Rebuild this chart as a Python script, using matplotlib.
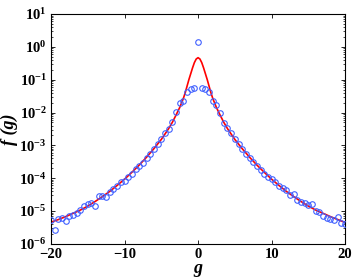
import numpy as np
import matplotlib
matplotlib.use('Agg')
import matplotlib.pyplot as plt
from matplotlib.ticker import LogLocator, NullFormatter

plt.rcParams['font.family'] = 'Liberation Serif'
plt.rcParams['font.weight'] = 'bold'
plt.rcParams['mathtext.fontset'] = 'custom'
plt.rcParams['mathtext.rm'] = 'Liberation Serif:bold'
plt.rcParams['mathtext.it'] = 'Liberation Serif:italic:bold'
plt.rcParams['mathtext.bf'] = 'Liberation Serif:bold'

# measured distribution (log10 of f), g = -20 ... 20 in steps of 0.5
g_data = [-20.0, -19.5, -19.0, -18.5, -18.0, -17.5, -17.0, -16.5, -16.0, -15.5,
          -15.0, -14.5, -14.0, -13.5, -13.0, -12.5, -12.0, -11.5, -11.0, -10.5,
          -10.0, -9.5, -9.0, -8.5, -8.0, -7.5, -7.0, -6.5, -6.0, -5.5,
          -5.0, -4.5, -4.0, -3.5, -3.0, -2.5, -2.0, -1.5, -1.0, -0.5,
          0.0, 0.5, 1.0, 1.5, 2.0, 2.5, 3.0, 3.5, 4.0, 4.5,
          5.0, 5.5, 6.0, 6.5, 7.0, 7.5, 8.0, 8.5, 9.0, 9.5,
          10.0, 10.5, 11.0, 11.5, 12.0, 12.5, 13.0, 13.5, 14.0, 14.5,
          15.0, 15.5, 16.0, 16.5, 17.0, 17.5, 18.0, 18.5, 19.0, 19.5, 20.0]
logf_data = [-5.27, -5.58, -5.24, -5.22, -5.30, -5.14, -5.12, -5.05, -4.97, -4.84,
             -4.80, -4.75, -4.85, -4.54, -4.54, -4.57, -4.43, -4.33, -4.24, -4.11,
             -4.08, -3.96, -3.86, -3.71, -3.63, -3.53, -3.37, -3.27, -3.10, -2.95,
             -2.80, -2.63, -2.49, -2.30, -1.99, -1.72, -1.65, -1.37, -1.28, -1.25,
             0.16, -1.25, -1.29, -1.38, -1.66, -1.76, -2.01, -2.31, -2.48, -2.63,
             -2.80, -2.95, -3.10, -3.25, -3.38, -3.52, -3.64, -3.74, -3.86, -3.96,
             -4.02, -4.11, -4.24, -4.29, -4.35, -4.52, -4.49, -4.65, -4.72, -4.75,
             -4.82, -4.80, -5.00, -5.03, -5.15, -5.20, -5.24, -5.27, -5.19, -5.37, -5.39]

# fitted curve (log10 of f)
g_fit = [-20, -19, -18, -17, -16, -15, -14, -13, -12, -11, -10, -9, -8, -7, -6, -5, -4,
         -3.5, -3, -2.5, -2, -1.75, -1.5, -1.25, -1, -0.75, -0.5, -0.25, 0,
         0.25, 0.5, 0.75, 1, 1.25, 1.5, 1.75, 2, 2.5, 3, 3.5,
         4, 5, 6, 7, 8, 9, 10, 11, 12, 13, 14, 15, 16, 17, 18, 19, 20]
logf_fit = [-5.34, -5.26, -5.17, -5.07, -4.97, -4.85, -4.71, -4.56, -4.40, -4.22, -4.03,
            -3.82, -3.60, -3.36, -3.10, -2.82, -2.49,
            -2.30, -2.08, -1.85, -1.57, -1.40, -1.20, -1.00, -0.82, -0.64, -0.48, -0.37, -0.33,
            -0.37, -0.48, -0.64, -0.82, -1.00, -1.20, -1.40, -1.57, -1.85, -2.08, -2.30,
            -2.49, -2.82, -3.10, -3.36, -3.60, -3.82, -4.03, -4.22, -4.40, -4.56, -4.71,
            -4.85, -4.97, -5.07, -5.17, -5.26, -5.35]

fig = plt.figure(figsize=(3.54, 2.8), dpi=100)
ax = fig.add_axes([0.144, 0.129, 0.831, 0.821])

ax.semilogy(g_data, 10 ** np.array(logf_data), 'o', mfc='none', mec='#4060ff',
            ms=4, mew=0.8, zorder=3)
ax.semilogy(g_fit, 10 ** np.array(logf_fit), color='red', lw=1.2, zorder=2)

ax.set_xlim(-20, 20)
ax.set_ylim(1e-6, 1e1)
ax.set_xticks([-20, -10, 0, 10, 20])
ax.set_xticklabels(['\u221220', '\u221210', '0', '10', '20'])
ax.yaxis.set_major_locator(LogLocator(base=10, numticks=10))
ax.yaxis.set_minor_locator(LogLocator(base=10, subs=np.arange(2, 10), numticks=20))
ax.yaxis.set_minor_formatter(NullFormatter())
ax.tick_params(which='both', direction='in', top=True, right=True, labelsize=10.5)
ax.tick_params(which='major', length=3, width=0.6, pad=3)
ax.tick_params(which='minor', length=1.5, width=0.5)
for s in ax.spines.values():
    s.set_linewidth(0.8)

ax.set_xlabel('g', fontsize=13, fontstyle='italic', fontweight='bold', labelpad=-1)
ax.set_ylabel('f (g)', fontsize=13, fontstyle='italic', fontweight='bold', labelpad=1)

fig.savefig('out.png', dpi=100)
